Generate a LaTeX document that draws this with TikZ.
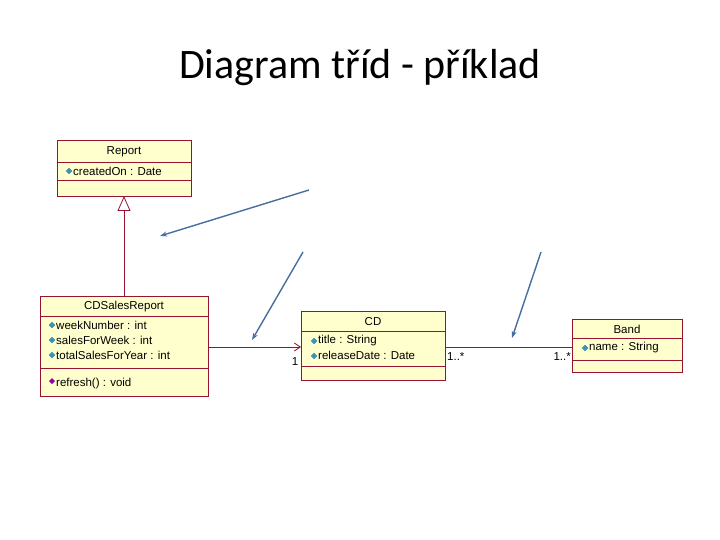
\documentclass[tikz,border=0pt]{standalone}
\usepackage{fontspec}
\setmainfont{Liberation Sans}
\newfontfamily\titlefont{Carlito}
\usetikzlibrary{arrows.meta,calc}
\definecolor{umlfill}{RGB}{255,255,206}
\definecolor{umlline}{RGB}{150,20,50}
\definecolor{note}{RGB}{70,110,160}
\tikzset{
 cls/.style={draw=umlline,fill=umlfill,line width=1.1pt,anchor=north west,inner sep=0pt},
 sep/.style={draw=umlline,line width=0.8pt},
 txt/.style={font=\fontsize{11.5}{13}\selectfont,inner sep=0pt},
 assoc/.style={draw=umlline,line width=0.8pt},
 bluearrow/.style={draw=note,line width=1.4pt,-{Stealth[length=7pt,width=5pt]}},
 dia/.style={fill=note!70!cyan,draw=note,line width=0.3pt}
}
\newcommand{\mydia}[1]{\fill[dia] ($(#1)+(-3,0)$) -- ++(3,-3) -- ++(3,3) -- ++(-3,3) -- cycle;}
\begin{document}
\begin{tikzpicture}[x=1pt,y=-1pt]
\useasboundingbox (0,0) rectangle (720,540);
\node[font=\titlefont\fontsize{42}{46}\selectfont] (title) at (360,68) {Diagram tříd - příklad};
% Report
\node[cls,minimum width=134pt,minimum height=56pt] (rep) at (57,140) {};
\draw[sep] (57,162) -- (191,162); \draw[sep] (57,180) -- (191,180);
\node[txt] (repn) at (124,152) {Report};
\mydia{69,171}\node[txt,anchor=west] (repa) at (73,171) {createdOn : Date};
% CDSalesReport
\node[cls,minimum width=168pt,minimum height=100pt] (csr) at (40,296) {};
\draw[sep] (40,316) -- (208,316); \draw[sep] (40,368) -- (208,368);
\node[txt] (csrn) at (124,307) {CDSalesReport};
\mydia{52,325}\node[txt,anchor=west] (c1) at (56,325) {weekNumber : int};
\mydia{52,340}\node[txt,anchor=west] (c2) at (56,340) {salesForWeek : int};
\mydia{52,355}\node[txt,anchor=west] (c3) at (56,355) {totalSalesForYear : int};
\fill[violet!80!magenta] (49,381) -- ++(3,-3) -- ++(3,3) -- ++(-3,3) -- cycle;
\node[txt,anchor=west] (c4) at (56,384) {refresh() : void};
% CD
\node[cls,minimum width=144pt,minimum height=69pt] (cd) at (301,311) {};
\draw[sep] (301,331) -- (445,331); \draw[sep] (301,366) -- (445,366);
\node[txt] (cdn) at (373,322) {CD};
\mydia{314,341}\node[txt,anchor=west] (d1) at (318,341) {title : String};
\mydia{314,356}\node[txt,anchor=west] (d2) at (318,355) {releaseDate : Date};
% Band
\node[cls,minimum width=110pt,minimum height=53pt] (band) at (572,319) {};
\draw[sep] (572,338) -- (682,338); \draw[sep] (572,360) -- (682,360);
\node[txt] (bn) at (627,329) {Band};
\mydia{585,348}\node[txt,anchor=west] (b1) at (589,348) {name : String};
% connectors
\coordinate (gtop) at (124,196); \coordinate (gbot) at (124,296);
\draw[assoc,-{Triangle[open,length=15pt,width=13pt]}] (gbot) -- (gtop);
\coordinate (a1) at (208,347); \coordinate (a2) at (301,347);
\draw[assoc,-{Straight Barb[length=6pt,width=8pt]}] (a1) -- (a2);
\node[txt] (m1) at (295,362) {1};
\coordinate (b1s) at (445,347); \coordinate (b2s) at (572,347);
\draw[assoc] (b1s) -- (b2s);
\node[txt,anchor=west] (m2) at (447,357) {1..*};
\node[txt,anchor=east] (m3) at (571,357) {1..*};
% blue arrows
\coordinate (n1s) at (309,190); \coordinate (n1e) at (160,236);
\coordinate (n2s) at (303,252); \coordinate (n2e) at (252,340);
\coordinate (n3s) at (541,252); \coordinate (n3e) at (512,338);
\draw[bluearrow] (n1s) -- (n1e);
\draw[bluearrow] (n2s) -- (n2e);
\draw[bluearrow] (n3s) -- (n3e);
\end{tikzpicture}
\end{document}
